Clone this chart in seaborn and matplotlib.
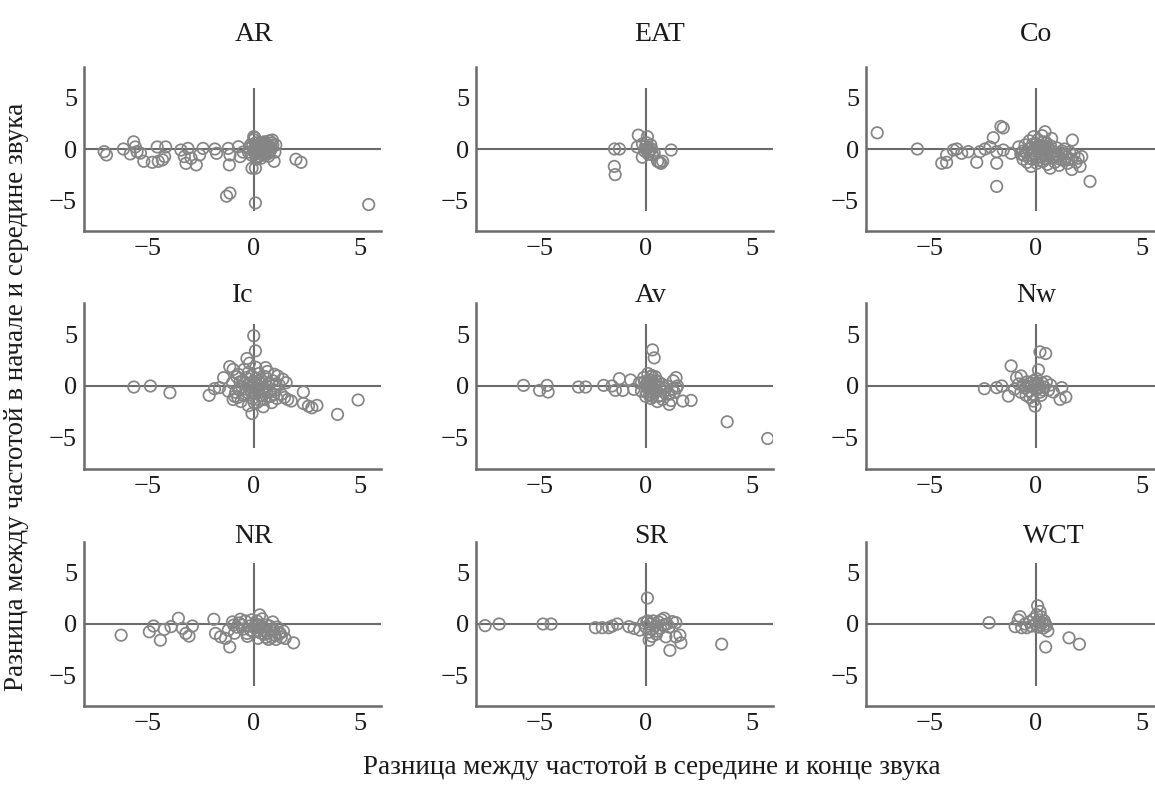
import matplotlib
matplotlib.use("Agg")
import matplotlib.pyplot as plt
import matplotlib.transforms as mtransforms
import seaborn as sns
import pandas as pd

# ---------------- data ----------------
panels = ["AR", "EAT", "Co", "Ic", "Av", "Nw", "NR", "SR", "WCT"]

ar_points = [(-7.05, -0.26), (-6.94, -0.58), (-6.14, 0.0), (-5.82, -0.48), (-5.66, 0.7), (-5.58, 0.2),
             (-5.5, -0.26), (-5.34, -0.4), (-5.18, -1.2), (-4.78, -1.3), (-4.55, 0.2), (-4.5, -1.2),
             (-4.3, -1.06), (-4.15, 0.2), (-4.2, -0.74), (-3.43, -0.1), (-3.27, -0.74), (-3.1, 0.06),
             (-3.19, -1.4), (-2.95, -0.9), (-2.71, -1.55), (-2.55, -0.58), (-2.39, 0.06), (-1.83, 0.0),
             (-1.75, -0.42), (-1.2, 0.06), (-1.15, -1.55), (-1.12, -0.58), (-0.72, 0.22), (-0.64, -0.74),
             (-0.5, -0.3), (-1.28, -4.6), (-1.12, -4.3), (0.08, -5.26), (-0.08, -1.87), (0.08, -1.87),
             (0.0, 1.2), (0.88, 0.87), (1.04, 0.39), (0.96, -1.2), (1.99, -1.0), (2.23, -1.3), (5.42, -5.42),
             (-0.25, -0.3), (-0.15, 0.4), (-0.1, -0.6), (0.0, 0.9), (0.05, -0.2), (0.1, 0.6), (0.15, -0.8),
             (0.2, 0.3), (0.25, -0.4), (0.3, 0.1), (0.35, -0.9), (0.4, 0.5), (0.45, -0.2), (0.5, 0.7),
             (0.55, -0.5), (0.6, 0.2), (0.7, -0.7), (0.75, 0.8), (0.8, -0.1), (0.9, 0.4), (1.0, -0.3),
             (0.05, 1.1), (0.12, -1.0), (0.22, 0.0), (0.32, 0.6), (0.42, -0.6), (0.52, 0.3), (0.62, -0.2),
             (0.18, 0.15), (0.28, -0.35), (0.38, 0.45), (0.48, -0.05), (0.58, 0.55), (0.68, -0.45), (0.78, 0.2),
             (-0.2, 0.1), (-0.05, 0.3), (0.08, -0.5), (0.14, 0.35), (0.24, -0.7), (0.34, 0.25), (0.44, -0.35),
             (0.54, 0.05), (0.64, 0.4), (0.74, -0.25), (0.84, 0.6), (0.02, -0.05), (0.3, -0.15), (0.1, 0.0)]

eat_points = [(-1.47, 0.0), (-1.24, 0.0), (-1.48, -1.7), (-1.44, -2.5), (-0.35, 1.35), (0.08, 1.2),
              (-0.4, 0.2), (-0.16, -0.8), (0.24, 0.39), (0.16, -0.26), (0.32, -0.58), (0.56, -1.2),
              (0.72, -1.4), (0.8, -1.2), (1.2, -0.1), (0.0, 0.3), (-0.05, -0.2), (0.1, 0.1), (0.05, 0.6),
              (-0.15, 0.5), (0.2, -0.1), (0.12, -0.5), (0.4, -0.4), (0.0, 0.0), (0.28, 0.0), (0.65, -1.3)]

co_points = [(-7.47, 1.58), (-5.58, 0.0), (-4.43, -1.39), (-4.2, -1.3), (-4.2, -0.58), (-3.88, -0.1),
             (-3.72, 0.0), (-3.49, -0.42), (-3.18, -0.26), (-2.78, -1.3), (-2.63, -0.26), (-2.39, 0.0),
             (-2.15, 0.2), (-2.0, 1.1), (-1.84, -1.39), (-1.84, -3.65), (-1.64, 2.2), (-1.53, 2.06),
             (-1.84, -0.26), (-1.53, -0.1), (-1.16, -0.42), (0.44, 1.68), (0.75, 1.03), (1.73, 0.87),
             (2.56, -3.16), (2.09, -1.7), (1.7, -2.0), (2.17, -0.74), (-0.22, -1.7), (0.68, -1.87),
             (-0.8, 0.2), (-0.7, -0.5), (-0.6, -1.0), (-0.5, 0.4), (-0.45, -0.3), (-0.4, -1.3), (-0.3, 0.8),
             (-0.25, -0.6), (-0.2, 0.1), (-0.15, -1.0), (-0.1, 1.2), (-0.05, -0.4), (0.0, 0.5), (0.05, -1.4),
             (0.1, 0.9), (0.15, -0.2), (0.2, -0.8), (0.25, 0.3), (0.3, 1.3), (0.35, -1.2), (0.4, 0.0),
             (0.45, -0.6), (0.5, 0.6), (0.55, -1.5), (0.6, -0.3), (0.7, 0.3), (0.75, -0.9), (0.8, -0.2),
             (0.9, -1.3), (1.0, 0.1), (1.05, -0.7), (1.1, -1.6), (1.2, -0.4), (1.3, -1.1), (1.35, 0.0),
             (1.45, -0.8), (1.5, -1.4), (1.6, -0.3), (1.7, -1.0), (1.8, -0.6), (1.9, -1.3), (2.0, -0.9),
             (-0.35, 0.0), (0.12, 0.2), (0.22, -0.4), (0.62, -0.05), (0.95, -0.5), (1.25, -0.2),
             (-0.6, -0.2), (0.02, -0.8), (-0.55, -0.6), (-0.3, -0.9), (-0.1, -0.15), (0.05, 0.15),
             (0.18, -1.1), (0.28, -0.05), (0.38, 0.7), (0.48, -0.95), (0.58, 0.15), (0.68, -0.55),
             (0.85, -0.75), (1.15, -1.0), (1.4, -0.5), (1.55, -1.0), (-0.15, 0.45), (0.32, -0.5)]

ic_points = [(-5.65, -0.1), (-4.87, 0.0), (-3.95, -0.65), (-2.1, -0.9), (-1.85, -0.26), (-1.61, -0.16),
             (-1.42, 0.8), (-1.13, 1.87), (-0.97, 1.6), (-0.97, -1.3), (-0.73, 1.13), (-0.32, 2.65),
             (0.0, 4.84), (0.08, 3.39), (-0.08, -2.65), (0.56, 1.77), (0.97, 1.13), (1.13, 0.97),
             (1.37, 0.65), (1.53, 0.32), (1.77, -1.45), (2.34, -0.58), (2.34, -1.68), (2.58, -1.94),
             (2.74, -2.1), (2.98, -1.87), (3.95, -2.74), (4.92, -1.35),
             (-1.2, -0.5), (-1.0, 0.3), (-0.9, -1.0), (-0.8, 0.9), (-0.7, -0.3), (-0.6, -1.5), (-0.5, 0.5),
             (-0.45, 1.6), (-0.4, -0.8), (-0.3, 0.1), (-0.25, -1.9), (-0.2, 2.2), (-0.15, -0.4), (-0.1, 1.0),
             (-0.05, -1.2), (0.0, 0.4), (0.05, -0.7), (0.1, 1.8), (0.15, -1.6), (0.2, 0.0), (0.25, 1.2),
             (0.3, -0.9), (0.35, 0.6), (0.4, -0.3), (0.5, -1.3), (0.55, 0.9), (0.6, -0.6), (0.7, 0.2),
             (0.8, -1.0), (0.9, 0.5), (1.0, -0.4), (1.1, -1.2), (1.2, 0.1), (1.3, -0.8), (1.45, -1.1),
             (-0.55, -0.1), (0.45, -2.0), (-0.35, 0.8), (0.65, 1.4), (0.12, -0.2), (-0.85, -0.6),
             (1.6, -1.3), (0.85, -1.6), (-0.15, 0.3), (0.3, 0.3),
             (-0.65, 0.4), (-0.5, -0.9), (-0.35, -0.3), (-0.25, 1.3), (-0.1, -0.6), (0.02, -1.6),
             (0.08, 0.7), (0.18, -0.4), (0.28, -1.4), (0.38, 0.2), (0.48, -0.6), (0.62, 0.0), (0.75, -0.5),
             (-0.05, 0.0), (0.22, 0.5), (-0.75, -1.1), (0.95, -0.8), (1.05, 0.2)]

av_points = [(-5.76, 0.06), (-5.0, -0.42), (-4.65, 0.06), (-4.6, -0.58), (-3.17, -0.1), (-2.83, -0.1),
             (-1.98, 0.06), (-1.59, 0.0), (-1.43, -0.42), (-1.24, 0.71), (-1.08, -0.42), (-0.71, 0.58),
             (-0.56, -0.32), (0.32, 3.48), (0.4, 2.71), (1.43, 0.81), (1.5, 0.0), (1.11, -1.77),
             (1.75, -1.45), (2.14, -1.39), (3.84, -3.45), (5.75, -5.06),
             (-0.3, 0.3), (-0.2, -0.5), (-0.1, 0.8), (0.0, -1.0), (0.05, 0.2), (0.1, 1.2), (0.15, -0.3),
             (0.2, 0.6), (0.25, -1.2), (0.3, 1.0), (0.35, -0.7), (0.4, 0.1), (0.45, 0.9), (0.5, -0.4),
             (0.55, -1.5), (0.6, 0.4), (0.7, -0.9), (0.75, 0.2), (0.8, -1.3), (0.9, -0.5), (1.0, 0.0),
             (1.1, -0.8), (1.2, -1.4), (1.3, 0.5), (1.35, -0.6), (1.45, -0.2), (0.05, -0.6), (0.2, 0.0),
             (-0.05, 0.4), (0.65, -0.1),
             (0.1, 0.5), (0.18, -0.9), (0.28, 0.3), (0.38, -0.3), (0.48, 0.5), (0.25, 0.9), (0.15, 0.1),
             (0.0, 0.1), (0.33, -1.0), (0.6, -1.0), (0.85, -0.2), (1.25, -0.3)]

nw_points = [(-2.42, -0.26), (-1.84, -0.16), (-1.6, 0.0), (-1.29, -0.97), (-1.16, 1.94), (-0.9, 0.81),
             (-0.69, 0.97), (0.2, 3.29), (0.47, 3.13), (0.13, 1.55), (-0.27, -1.13), (-0.03, -1.94),
             (-0.11, -1.45), (0.83, -0.58), (1.23, -0.16), (1.15, -1.29), (1.42, -1.06),
             (-1.0, -0.3), (-0.8, 0.2), (-0.7, -0.6), (-0.6, 0.1), (-0.5, -0.2), (-0.4, 0.4), (-0.3, -0.5),
             (-0.2, 0.0), (-0.1, 0.5), (0.0, -0.3), (0.1, 0.2), (0.2, -0.6), (0.3, 0.3), (0.4, -0.1),
             (0.5, 0.4), (0.6, -0.4), (0.7, 0.1), (-0.15, -0.8), (0.25, -0.9), (0.05, 0.7), (-0.45, -0.9),
             (-0.05, 0.1), (0.15, -0.2), (-0.25, 0.25), (0.35, -0.4), (-0.35, -0.05), (0.0, 0.3)]

nr_points = [(-6.25, -1.09), (-4.92, -0.76), (-4.72, -0.2), (-4.4, -1.58), (-4.22, -0.53), (-3.9, -0.26),
             (-3.55, 0.56), (-3.36, -0.43), (-3.2, -0.92), (-3.05, -1.18), (-2.89, -0.2), (-1.88, 0.46),
             (-1.8, -0.92), (-1.56, -1.25), (-1.33, -1.41), (-1.13, -2.24), (-0.94, -0.1), (-0.63, 0.46),
             (-0.31, -0.92), (0.28, 0.89), (1.88, -1.84), (1.48, -1.41), (1.25, -0.92),
             (-1.2, -0.6), (-1.0, 0.2), (-0.9, -0.9), (-0.8, -0.3), (-0.7, 0.1), (-0.5, -0.5), (-0.4, 0.3),
             (-0.3, -1.2), (-0.2, -0.2), (-0.1, 0.4), (0.0, -0.8), (0.1, 0.0), (0.2, -1.4), (0.3, -0.4),
             (0.4, 0.5), (0.5, -1.0), (0.6, -0.1), (0.7, -1.5), (0.8, -0.6), (0.9, 0.2), (1.0, -1.1),
             (1.1, -0.3), (1.3, -1.3), (1.4, -0.7), (0.15, 0.3), (0.55, -0.7), (-0.55, -0.1), (0.85, -1.3),
             (0.25, -0.1), (1.2, -0.9),
             (0.05, -0.3), (0.35, -0.9), (0.45, -0.3), (0.65, -0.9), (0.75, -0.2), (0.95, -0.6),
             (-0.15, -0.6), (0.18, -0.7), (0.58, -1.3), (1.05, -1.5)]

sr_points = [(-7.57, -0.16), (-6.91, 0.0), (-4.84, 0.0), (-4.46, 0.0), (-2.37, -0.36), (-2.05, -0.36),
             (-1.74, -0.36), (-1.58, -0.2), (-1.34, 0.0), (-0.79, -0.26), (-0.55, -0.43), (-0.28, -0.59),
             (0.08, 2.53), (0.16, -1.58), (0.87, 0.56), (0.95, -1.25), (1.14, -2.57), (1.42, -1.25),
             (1.61, -1.09), (1.66, -1.84), (1.26, 0.23), (1.42, 0.13), (3.58, -1.97),
             (-0.1, 0.1), (0.0, -0.3), (0.1, 0.3), (0.15, -0.8), (0.2, 0.0), (0.3, -0.5), (0.35, 0.3),
             (0.45, -0.2), (0.5, -1.0), (0.6, 0.2), (0.7, -0.4), (0.75, 0.4), (0.85, -0.1), (0.3, -1.2),
             (1.0, 0.0), (1.1, -0.3), (0.55, -0.7), (0.05, 0.2)]

wct_points = [(-2.2, 0.13), (-0.97, -0.26), (-0.74, 0.72), (-0.66, -0.36), (-0.42, -0.36), (-0.82, 0.39),
              (0.09, 1.78), (0.2, 1.22), (0.47, -2.24), (0.57, -0.69), (1.57, -1.35), (2.06, -1.97),
              (-0.3, 0.2), (-0.2, -0.2), (-0.1, 0.5), (0.0, 0.0), (0.05, 0.9), (0.1, -0.3), (0.15, 0.4),
              (0.2, -0.1), (0.25, 0.7), (0.3, 0.1), (0.35, -0.4), (0.4, 0.3), (0.5, -0.2), (-0.5, 0.0),
              (0.45, 0.0)]

tick_values = [-5, 0, 5]
x_label = "Разница между частотой в середине и конце звука"
y_label = "Разница между частотой в начале и середине звука"

# ---------------- build table ----------------
all_points = [ar_points, eat_points, co_points, ic_points, av_points,
              nw_points, nr_points, sr_points, wct_points]
rows = []
for name, pts in zip(panels, all_points):
    for px, py in pts:
        rows.append({"panel": name, "dx": px, "dy": py})
df = pd.DataFrame(rows)

# ---------------- style ----------------
sns.set_theme(style="white")
plt.rcParams['font.family'] = ['Liberation Serif', 'DejaVu Serif']
plt.rcParams['axes.unicode_minus'] = True

W, H = 1155, 791
fig = plt.figure(figsize=(W / 100, H / 100), dpi=100)
fig.patch.set_facecolor("white")

line_c = "#6b6b6b"
mark_c = "#858585"

col_left = [84, 476, 866]
col_w = 297
row_top = [67, 303, 542]
row_h = [164, 166, 164]
title_baseline = [1.16, 1.006, 0.996]
title_xdata = [0.0, 0.65, 0.0, -0.5, 0.25, 0.0, 0.0, 0.25, 0.85]

for i, name in enumerate(panels):
    r, c = divmod(i, 3)
    ax = fig.add_axes([col_left[c] / W, 1 - (row_top[r] + row_h[r]) / H,
                       col_w / W, row_h[r] / H])
    ax.set_facecolor("white")
    ax.axhline(0, color=line_c, lw=1.5, zorder=1)
    ax.vlines(0, -6, 6, color=line_c, lw=1.5, zorder=1)
    sub = df[df["panel"] == name]
    sns.scatterplot(data=sub, x="dx", y="dy", ax=ax, marker="o", s=68,
                    facecolor="none", edgecolor=mark_c, linewidth=1.25, zorder=3)
    ax.set_xlim(-8, 6)
    ax.set_ylim(-8, 8)
    ax.set_xticks(tick_values)
    ax.set_yticks(tick_values)
    ax.set_xlabel("")
    ax.set_ylabel("")
    for side in ["top", "right"]:
        ax.spines[side].set_visible(False)
    for side in ["left", "bottom"]:
        ax.spines[side].set_color(line_c)
        ax.spines[side].set_linewidth(1.8)
    ax.tick_params(direction="in", length=3, width=1.2, color=line_c,
                   labelsize=19, labelcolor="#1a1a1a", pad=5)
    ax.grid(False)
    trans = mtransforms.blended_transform_factory(ax.transData, ax.transAxes)
    ax.text(title_xdata[i], title_baseline[r], name, transform=trans,
            ha="center", va="baseline", fontsize=20, color="#1a1a1a")

fig.text(17 / W, 1 - 397 / H, y_label, rotation=90, ha="center", va="center",
         fontsize=19.5, color="#1a1a1a")
fig.text(652 / W, 1 - 767 / H, x_label, ha="center", va="center",
         fontsize=19.5, color="#1a1a1a")

fig.savefig("out.png", dpi=100, facecolor="white")
